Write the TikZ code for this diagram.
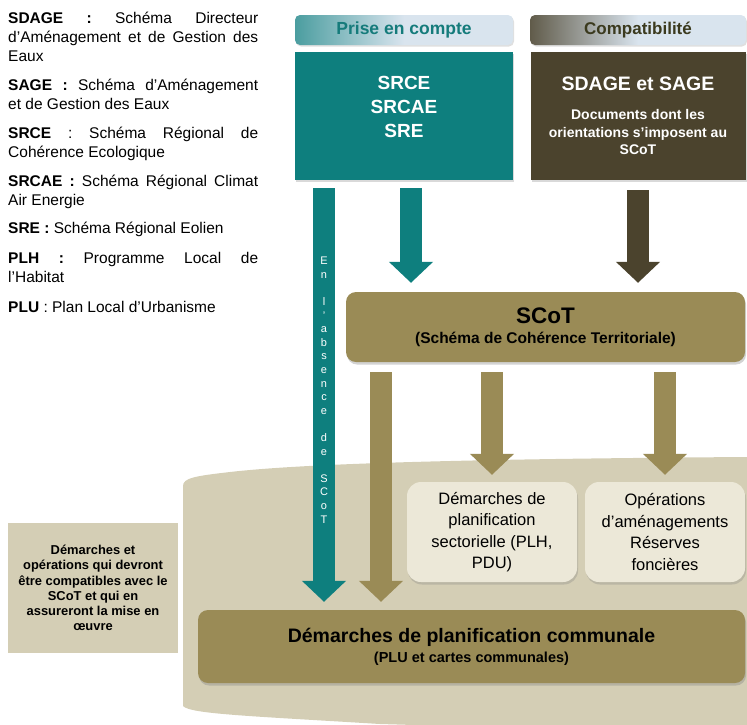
\documentclass[tikz,border=0pt]{standalone}
\usepackage{fontspec}
\setmainfont{Liberation Sans}
\usetikzlibrary{arrows.meta, shadows, calc}
\definecolor{tealbox}{HTML}{0E7F7E}
\definecolor{darkolive}{HTML}{4B432D}
\definecolor{olivebox}{HTML}{9A8B56}
\definecolor{beigebg}{HTML}{D4CEB5}
\definecolor{creambox}{HTML}{ECE8D8}
\definecolor{headlight}{HTML}{D9E4EE}
\definecolor{tealtext}{HTML}{157B7B}
\definecolor{olivetext}{HTML}{3B3A1E}

\newcommand{\fsz}[2]{\fontsize{#1}{#2}\selectfont}

\begin{document}
\begin{tikzpicture}[x=1pt, y=-1pt]
    % Styles
    \tikzstyle{legend} = [anchor=base west, text width=250pt, align=justify, inner sep=0pt, font=\fsz{15.5}{19}]
    \tikzstyle{header} = [rounded corners=5pt, minimum height=30pt, font=\fsz{17.5}{20}\bfseries, drop shadow={opacity=0.25, shadow xshift=1pt, shadow yshift=-1.5pt}]
    \tikzstyle{docbox} = [minimum height=128pt, text=white, align=center, drop shadow={opacity=0.3, shadow xshift=1pt, shadow yshift=-2pt}]
    \tikzstyle{olivebar} = [rounded corners=10pt, fill=olivebox, align=center, font=\bfseries, drop shadow={opacity=0.35, shadow xshift=1pt, shadow yshift=-2.5pt}]
    \tikzstyle{creamnode} = [rounded corners=14pt, fill=creambox, minimum height=100pt, align=center, font=\fsz{16.5}{21.5}, drop shadow={opacity=0.3, shadow xshift=1pt, shadow yshift=-2.5pt}]
    \tikzstyle{bigarrow} = [line width=21.5pt, -{Triangle[length=21pt, width=43pt]}]

    \useasboundingbox (0,0) rectangle (747,724);

    % Background area
    \fill[beigebg] (183,486) .. controls (183,478) and (195,476) .. (230,472)
        .. controls (300,464) and (450,459) .. (747,457) -- (760,457) -- (760,735)
        -- (380,724) .. controls (250,716) and (190,714) .. (183,706) -- cycle;

    % Legend
    \node[legend] (leg-sdage) at (8,23) {\textbf{SDAGE :} Schéma Directeur\linebreak d’Aménagement et de Gestion des\linebreak Eaux};
    \node[legend] (leg-sage) at (8,90) {\textbf{SAGE :} Schéma d’Aménagement\linebreak et de Gestion des Eaux};
    \node[legend] (leg-srce) at (8,138) {\textbf{SRCE} : Schéma Régional de\linebreak Cohérence Ecologique};
    \node[legend] (leg-srcae) at (8,186) {\textbf{SRCAE :} Schéma Régional Climat\linebreak Air Energie};
    \node[legend] (leg-sre) at (8,233) {\textbf{SRE :} Schéma Régional Eolien};
    \node[legend] (leg-plh) at (8,263) {\textbf{PLH :} Programme Local de\linebreak l’Habitat};
    \node[legend] (leg-plu) at (8,312) {\textbf{PLU} : Plan Local d’Urbanisme};

    % Headers
    \node[header, minimum width=218pt, text=tealtext, left color=tealbox!70!headlight, right color=headlight, middle color=headlight] (prise) at (404,30) {Prise en compte};
    \node[header, minimum width=216pt, text=olivetext, font=\fsz{17}{20}\bfseries, left color=darkolive!85!headlight, right color=headlight, middle color=headlight] (compat) at (638,30) {Compatibilité};

    % Upper documents
    \node[docbox, fill=tealbox, minimum width=218pt] (srce) at (404,116) {};
    \node[text=white, align=center, font=\fsz{19}{24}\bfseries, yshift=9pt] (srce-txt) at (srce) {SRCE\\SRCAE\\SRE};
    \node[docbox, fill=darkolive, minimum width=215pt, font=\fsz{14}{17.5}\bfseries] (sdage) at (638,116)
        {\fsz{19.5}{24}SDAGE et SAGE\\[11.5pt]\fsz{14}{17.5}Documents dont les\\\fsz{14}{17.5}orientations s'imposent au\\\fsz{14}{17.5}SCoT};

    % SCoT
    \node[olivebar, minimum width=399pt, minimum height=70pt, font=\fsz{15.5}{20}\bfseries] (scot) at (545.5,327)
        {\fsz{22.5}{20}SCoT\\\fsz{15.5}{20}(Schéma de Cohérence Territoriale)};

    % Lower documents
    \node[creamnode, minimum width=170pt] (secto) at (492,532) {Démarches de\\planification\\sectorielle (PLH,\\PDU)};
    \node[creamnode, minimum width=160pt] (operat) at (665,532) {Opérations\\d’aménagements\\Réserves\\foncières};
    \node[olivebar, minimum width=547pt, minimum height=73pt, font=\fsz{14.5}{20}\bfseries] (commune) at (471.5,646.5)
        {\fsz{19.5}{20}Démarches de planification communale\\\fsz{14.5}{20}(PLU et cartes communales)};

    % Side note
    \node[fill=beigebg, minimum width=170pt, minimum height=130pt, align=center, font=\fsz{12.9}{15.3}\bfseries] (mise) at (93,588)
        {Démarches et\\opérations qui devront\\être compatibles avec le\\SCoT et qui en\\assureront la mise en\\œuvre};

    % Arrows
    \draw[bigarrow, tealbox] ($(srce.south)+(7,8)$) -- ($(scot.north)+(-134.5,-9)$);
    \draw[bigarrow, darkolive] ($(sdage.south)+(0,10)$) -- ($(scot.north)+(92.5,-9)$);
    \draw[bigarrow, tealbox] ($(srce.south)+(-80,8)$) -- ($(commune.north)+(-147.5,-8)$);
    \draw[bigarrow, olivebox] ($(scot.south)+(-164.5,10)$) -- ($(commune.north)+(-90.5,-8)$);
    \draw[bigarrow, olivebox] ($(scot.south)+(-53.5,10)$) -- ($(secto.north)+(0,-7)$);
    \draw[bigarrow, olivebox] ($(scot.south)+(119.5,10)$) -- ($(operat.north)+(0,-7)$);

    % Vertical label on the teal bar
    \node[anchor=north, inner sep=0pt, text=white, align=center, font=\fsz{11}{13.6}] (absence) at (324,257)
        {E\\n\\[13.6pt]l\\'\\a\\b\\s\\e\\n\\c\\e\\[13.6pt]d\\e\\[13.6pt]S\\C\\o\\T};
\end{tikzpicture}
\end{document}
